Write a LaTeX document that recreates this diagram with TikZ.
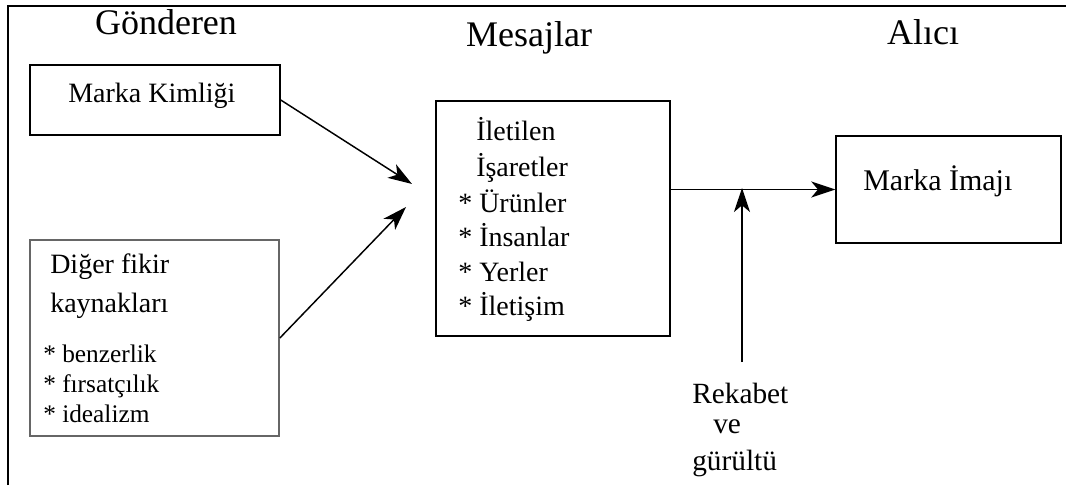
\documentclass[tikz,border=0pt]{standalone}
\usepackage{fontspec}
\setmainfont{Liberation Serif}
\usetikzlibrary{arrows.meta}
\begin{document}
\begin{tikzpicture}[x=0.75pt,y=-0.75pt,
  box/.style={draw=black,line width=1.1pt,inner sep=0pt,rectangle},
  softbox/.style={draw=black!60,line width=1.3pt,inner sep=0pt,rectangle},
  txt/.style={anchor=base west,inner sep=0pt,font=\fontsize{21pt}{25pt}\selectfont},
  small/.style={anchor=base west,inner sep=0pt,font=\fontsize{19pt}{23pt}\selectfont},
  big/.style={anchor=base west,inner sep=0pt,font=\fontsize{22.5pt}{27pt}\selectfont},
  head/.style={anchor=base,inner sep=0pt,font=\fontsize{27pt}{32pt}\selectfont},
  link/.style={line width=1.1pt,-{Stealth[length=18pt,width=12pt,inset=5pt]}}]
\useasboundingbox (0,0) rectangle (1066,485);
% open frame: top and left rules only
\draw[line width=1.6pt] (8,485) -- (8,6) -- (1066,6);

% column headings
\node[head] (hs) at (166,35) {Gönderen};
\node[head] (hm) at (529,47) {Mesajlar};
\node[head] (hr) at (923,45) {Alıcı};

% sender boxes
\node[box,minimum width=187.5pt,minimum height=52.5pt] (mk) at (155,100) {};
\node[txt] (mkt) at (68,102) {Marka Kimliği};

\node[softbox,minimum width=186.75pt,minimum height=147pt] (dg) at (154.5,338) {};
\node[txt] (dg1) at (50,273) {Diğer fikir};
\node[txt] (dg2) at (50,312) {kaynakları};
\node[small] (dg3) at (43,362) {* benzerlik};
\node[small] (dg4) at (43,392) {* fırsatçılık};
\node[small] (dg5) at (43,422) {* idealizm};

% message box
\node[box,minimum width=175.5pt,minimum height=176.25pt] (mid) at (553,218.5) {};
\node[txt] (m1) at (476,140) {İletilen};
\node[txt] (m2) at (476,176) {İşaretler};
\node[txt] (m3) at (458,212) {* Ürünler};
\node[txt] (m4) at (458,246) {* İnsanlar};
\node[txt] (m5) at (458,281) {* Yerler};
\node[txt] (m6) at (458,315) {* İletişim};

% receiver box
\node[box,minimum width=168.75pt,minimum height=80.25pt] (mi) at (948.5,189.5) {};
\node[big] (mit) at (863,190) {Marka İmajı};

% noise label
\node[txt,font=\fontsize{22pt}{26pt}\selectfont] (n1) at (692,403) {Rekabet};
\node[txt,font=\fontsize{22pt}{26pt}\selectfont] (n2) at (713,433) {ve};
\node[txt,font=\fontsize{22pt}{26pt}\selectfont] (n3) at (692,470) {gürültü};

% connectors
\coordinate (in1) at (412,184);
\coordinate (in2) at (406,207);
\coordinate (nz) at (742,362);
\coordinate (jn) at (742,188);
\draw[link] (mk.east) -- (in1);
\draw[link] (dg.east) -- (in2);
\draw[link] (mid.east |- mi.west) -- (mi.west);
\draw[link] (nz) -- (jn);
\end{tikzpicture}
\end{document}
